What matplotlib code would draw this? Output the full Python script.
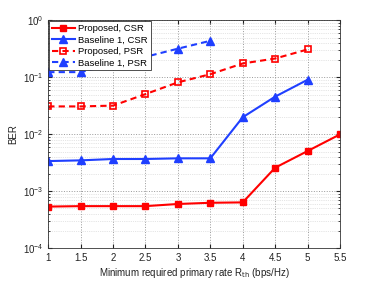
import numpy as np
import matplotlib.pyplot as plt

plt.rcParams['font.family'] = ['Liberation Sans', 'DejaVu Sans']

rth = [1, 1.5, 2, 2.5, 3, 3.5, 4, 4.5, 5, 5.5]
prop_csr = [5.4e-4, 5.5e-4, 5.5e-4, 5.5e-4, 6.0e-4, 6.3e-4, 6.4e-4, 2.6e-3, 5.1e-3, 1.0e-2]
base_csr = [3.4e-3, 3.5e-3, 3.7e-3, 3.7e-3, 3.8e-3, 3.8e-3, 2.0e-2, 4.6e-2, 9.1e-2]
prop_psr = [3.1e-2, 3.1e-2, 3.2e-2, 5.1e-2, 8.2e-2, 0.114, 0.176, 0.215, 0.31]
base_psr = [0.124, 0.124, 0.17, 0.23, 0.32, 0.44]

red = '#ff0000'
blue = '#1f3fff'

fig = plt.figure(figsize=(3.74, 2.83), dpi=100)
ax = fig.add_axes([0.129, 0.1226, 0.78, 0.805])

ax.plot(rth, prop_csr, '-s', color=red, lw=1.5, ms=4.5, mfc=red, label='Proposed, CSR')
ax.plot(rth[:len(base_csr)], base_csr, '-^', color=blue, lw=1.5, ms=5.5, mfc=blue, label='Baseline 1, CSR')
ax.plot(rth[:len(prop_psr)], prop_psr, '--s', color=red, lw=1.5, ms=4.5, mfc='none', mew=1.2,
        dashes=(3, 2), label='Proposed, PSR')
ax.plot(rth[:len(base_psr)], base_psr, '--^', color=blue, lw=1.5, ms=5.5, mfc=blue,
        dashes=(3, 2), label='Baseline 1, PSR')

ax.set_yscale('log')
ax.set_xlim(1, 5.5)
ax.set_ylim(1e-4, 1)
ax.set_xticks(rth)
ax.set_xticklabels(['1', '1.5', '2', '2.5', '3', '3.5', '4', '4.5', '5', '5.5'])
ax.grid(True, which='major', ls=':', color='#999999', lw=0.7)
ax.grid(True, which='minor', ls=':', color='#cccccc', lw=0.5)
ax.tick_params(which='both', direction='in', top=True, right=True, labelsize=7, colors='#222222')
ax.tick_params(which='minor', length=1.5)
ax.tick_params(which='major', length=3)
for s in ax.spines.values():
    s.set_color('#333333')
    s.set_linewidth(0.6)

ax.set_xlabel('Minimum required primary rate R$_{\\rm th}$ (bps/Hz)', fontsize=7, color='#222222', labelpad=2)
ax.set_ylabel('BER', fontsize=7, color='#222222', labelpad=3)

leg = ax.legend(loc='upper left', fontsize=6.8, handlelength=2.4, borderaxespad=0.1,
                fancybox=False, framealpha=1, edgecolor='#333333', borderpad=0.3,
                labelspacing=0.25, handletextpad=0.4)
leg.get_frame().set_linewidth(0.6)

fig.savefig('out.png', dpi=100)
